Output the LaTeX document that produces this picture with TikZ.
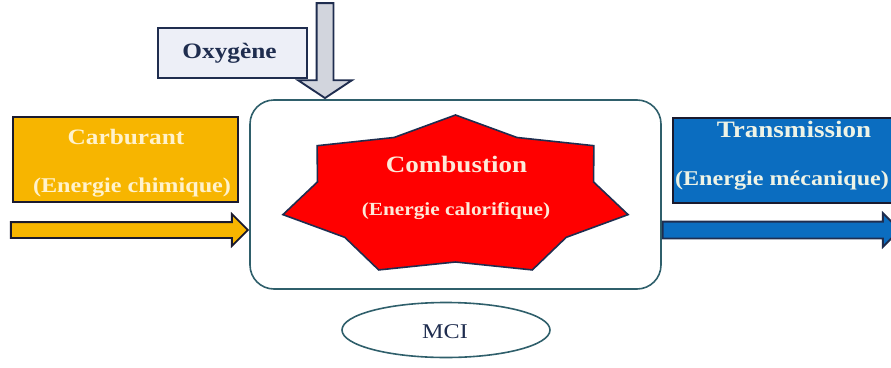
\documentclass[tikz,border=0pt]{standalone}
\usepackage{fontspec}
\setmainfont[FakeStretch=1.15]{Liberation Serif}
\usetikzlibrary{shapes.geometric,shapes.arrows,positioning}

\definecolor{amber}{HTML}{F7B500}
\definecolor{cream}{HTML}{FFF2CC}
\definecolor{steelblue}{HTML}{0B6DC0}
\definecolor{paleblue}{HTML}{EEF3E6}
\definecolor{firered}{HTML}{FF0000}
\definecolor{peach}{HTML}{FDE9D9}
\definecolor{navy}{HTML}{1F2D4F}
\definecolor{lavender}{HTML}{EDEFF7}
\definecolor{airgray}{HTML}{D2D5DD}
\definecolor{tealline}{HTML}{2F5F6B}
\definecolor{boxline}{HTML}{1A1A2E}

\begin{document}
\begin{tikzpicture}[x=1pt,y=-1pt,% one unit is one pixel of the sketch, y going down
        energybox/.style={draw=boxline,line width=1.8pt,inner sep=0pt},
        title/.style={anchor=base,font=\fontsize{22}{26}\selectfont\bfseries},
        sub/.style={anchor=base,font=\fontsize{20}{24}\selectfont\bfseries},
        flow/.style={single arrow,draw=navy,line width=1.9pt,inner xsep=0pt,
          single arrow head indent=0pt},
        burst/.style={draw=navy,line width=1.6pt,fill=firered,line join=miter}]
\useasboundingbox (0,0) rectangle (891,367);

% the engine and its name
\node[draw=tealline,line width=1.6pt,rounded corners=24pt,minimum width=411pt,
      minimum height=189pt] (mci) at (455.5,194.5) {};
\node[draw=tealline,line width=1.6pt,ellipse,minimum width=208pt,minimum height=55pt]
      (mciname) at (446,330) {};
\node[anchor=base,text=navy,font=\fontsize{21}{25}\selectfont] (mcitext) at (445,338) {MCI};

% the flame
\coordinate (fire) at (455.5,196.5);
\draw[burst,shift={(fire)}] (-90:177 and 81.5)
  \foreach \k in {1,...,7}{ -- ({-90+(2*\k-1)*180/7}:141.6 and 65.5) -- ({-90+\k*360/7}:177 and 81.5)} -- cycle;
\node[title,text=peach,font=\fontsize{23.5}{28}\selectfont\bfseries] (combtitle) at (456.5,172.5) {Combustion};
\node[sub,text=peach,font=\fontsize{18.5}{22}\selectfont\bfseries] (combsub) at (456,215) {(Energie calorifique)};

% fuel in
\node[energybox,fill=amber,minimum width=225pt,minimum height=85pt] (carb) at (125.5,159.5) {};
\node[title,text=cream] (carbtitle) at (126,144) {Carburant};
\node[sub,text=cream,font=\fontsize{21}{25}\selectfont\bfseries] (carbsub) at (132,192) {(Energie chimique)};
\node[flow,draw=boxline,fill=amber,inner ysep=7pt,single arrow head extend=8pt,
      minimum height=237pt,anchor=tip] (carbin) at (mci.west |- 0,230) {};

% air in
\node[energybox,draw=navy,fill=lavender,minimum width=149pt,minimum height=50pt] (oxy) at (232.5,53) {};
\node[title,text=navy,font=\fontsize{22}{26}\selectfont\bfseries] (oxytext) at (229.5,58) {Oxygène};
\node[flow,fill=airgray,inner xsep=7.5pt,inner ysep=0pt,single arrow head extend=18.5pt,
      single arrow tip angle=113,shape border rotate=270,
      minimum height=95pt,anchor=tip] (oxyin) at (325,0 |- mci.north) {};

% work out
\node[energybox,fill=steelblue,minimum width=232pt,minimum height=85pt] (trans) at (789,160.5) {};
\node[title,text=paleblue,font=\fontsize{23.5}{28}\selectfont\bfseries] (transtitle) at (794,137) {Transmission};
\node[sub,text=paleblue,font=\fontsize{21}{25}\selectfont\bfseries] (transsub) at (782,185) {(Energie mécanique)};
\node[flow,draw=navy,fill=steelblue,inner ysep=7.5pt,single arrow head extend=8.5pt,
      minimum height=237pt,anchor=tail] (transout) at (mci.east |- 0,230) {};

\end{tikzpicture}
\end{document}
